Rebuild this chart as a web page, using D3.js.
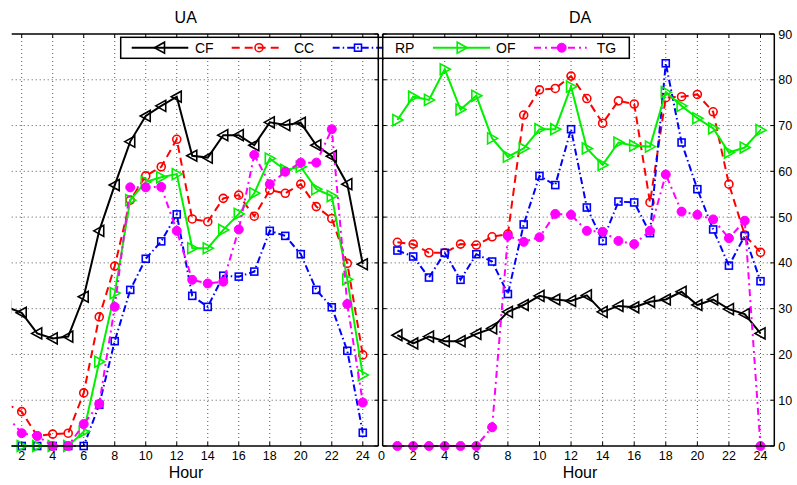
<!DOCTYPE html>
<html><head><meta charset="utf-8">
<script src="https://cdn.jsdelivr.net/npm/d3@7"></script>
<style>html,body{margin:0;padding:0;background:#fff;}svg{display:block;font-family:"Liberation Sans",Arial,sans-serif;}</style>
</head><body>
<script>
const hours = d3.range(1, 25);
const seriesNames = ["CF", "CC", "RP", "OF", "TG"];
const panelTitles = ["UA", "DA"];
const xTicks = [2,4,6,8,10,12,14,16,18,20,22,24];
const yTicks = [0,10,20,30,40,50,60,70,80,90];

// UA panel
const uaCF = [30.4,29.1,24.6,23.5,23.9,32.6,47.0,57.0,66.5,72.1,74.3,76.3,63.4,63.0,67.9,67.9,65.7,70.7,70.1,70.6,65.7,63.3,57.2,39.7];
const uaCC = [9.2,7.5,2.2,2.6,2.8,11.6,28.2,39.3,53.7,59.0,61.0,67.0,49.6,49.0,54.1,54.8,50.2,55.9,55.2,57.2,52.3,49.7,39.9,19.9];
const uaRP = [0,0,0,0,0,0,9.0,22.9,34.1,40.9,44.7,50.6,32.8,30.4,37.2,37.0,38.1,47.0,45.9,41.9,34.1,30.3,20.8,2.9];
const uaOF = [0,0,0,0,0,3.1,18.4,33.4,53.7,57.7,58.7,59.4,43.2,43.2,47.2,50.7,55.2,62.8,60.3,61.0,56.1,54.6,36.4,15.5];
const uaTG = [6.7,2.8,2.2,0,0,4.8,9.2,30.4,56.5,56.5,56.6,47.0,36.3,35.5,35.9,47.3,63.6,57.2,59.9,61.9,61.9,69.2,31.0,9.5];

// DA panel
const daCF = [24.2,22.4,23.9,22.9,22.9,24.5,25.7,29.3,30.8,32.8,32.0,31.7,32.9,29.3,30.6,30.3,31.5,32.0,33.7,30.8,32.0,29.9,28.8,24.6];
const daCC = [44.5,44.1,42.2,42.2,44.1,43.9,45.7,46.3,72.3,77.8,78.1,80.8,75.9,70.5,75.4,74.7,53.2,76.1,76.3,76.8,73.0,57.2,46.1,42.3];
const daRP = [42.7,41.4,36.8,42.2,36.3,41.9,40.3,33.2,48.4,59.0,57.0,69.2,52.1,44.8,53.4,53.2,46.5,83.6,66.3,56.1,47.3,39.4,45.9,36.0];
const daOF = [71.2,76.3,75.6,82.3,73.5,76.5,67.2,63.2,65.0,69.2,69.2,78.5,65.0,61.4,66.3,65.6,65.4,77.3,74.3,71.6,69.4,64.1,65.2,69.0];
const daTG = [0,0,0,0,0,0,4.1,45.9,44.6,45.6,50.7,50.5,47.0,46.8,44.8,44.1,47.0,59.3,51.2,50.5,49.5,45.4,49.2,0];

const W = 797, H = 485;
const svg = d3.select("body").append("svg").attr("width", W).attr("height", H);

const styles = {
  CF: {color:"#000000", dash:null, marker:"triL"},
  CC: {color:"#ff0000", dash:"8,5", marker:"circle"},
  RP: {color:"#0000ff", dash:"7,3,1.5,3", marker:"square"},
  OF: {color:"#00f000", dash:null, marker:"triR"},
  TG: {color:"#ff00ff", dash:"7,4,2,4", marker:"dot"}
};

const y = d3.scaleLinear().domain([0, 90]).range([446, 34]);

const panels = [
  {title: panelTitles[0], x: d3.scaleLinear().domain([0,25]).range([-9.3, 378.3]), left: 11.7, right: 378.3,
   data: {CF: uaCF, CC: uaCC, RP: uaRP, OF: uaOF, TG: uaTG}, leftAxis:false, rightLabels:false},
  {title: panelTitles[1], x: d3.scaleLinear().domain([0,25]).range([381.6, 776.3]), left: 382.7, right: 774.3,
   data: {CF: daCF, CC: daCC, RP: daRP, OF: daOF, TG: daTG}, leftAxis:true, rightLabels:true}
];

function drawMarker(g, type, cx, cy, color) {
  if (type === "triL") {
    g.append("path").attr("d", `M${cx-5.5},${cy} L${cx+4.5},${cy-5.5} L${cx+4.5},${cy+5.5} Z`)
      .attr("fill","none").attr("stroke",color).attr("stroke-width",1.6);
  } else if (type === "triR") {
    g.append("path").attr("d", `M${cx+5.5},${cy} L${cx-4.5},${cy-5.5} L${cx-4.5},${cy+5.5} Z`)
      .attr("fill","none").attr("stroke",color).attr("stroke-width",1.6);
  } else if (type === "circle") {
    g.append("circle").attr("cx",cx).attr("cy",cy).attr("r",4)
      .attr("fill","none").attr("stroke",color).attr("stroke-width",1.6);
  } else if (type === "square") {
    g.append("rect").attr("x",cx-3.5).attr("y",cy-3.5).attr("width",7).attr("height",7)
      .attr("fill","none").attr("stroke",color).attr("stroke-width",1.6);
  } else if (type === "dot") {
    g.append("circle").attr("cx",cx).attr("cy",cy).attr("r",4.5)
      .attr("fill",color).attr("stroke",color).attr("stroke-width",1);
  }
}

panels.forEach((p, i) => {
  const x = p.x;
  const gp = svg.append("g");
  const clipId = "clip" + i;
  svg.append("defs").append("clipPath").attr("id", clipId)
    .append("rect").attr("x", p.left).attr("y", 0).attr("width", p.right - p.left).attr("height", H);

  // grid
  const grid = gp.append("g").attr("stroke", "#555").attr("stroke-width", 1).attr("stroke-dasharray", "1,3");
  xTicks.forEach(t => {
    grid.append("line").attr("x1", x(t)).attr("x2", x(t)).attr("y1", y(0)).attr("y2", y(90));
  });
  yTicks.filter(t => t > 0 && t < 90).forEach(t => {
    grid.append("line").attr("x1", p.left).attr("x2", p.right).attr("y1", y(t)).attr("y2", y(t));
  });

  // series
  const gs = gp.append("g").attr("clip-path", `url(#${clipId})`);
  seriesNames.forEach(name => {
    const st = styles[name];
    const vals = p.data[name];
    const line = d3.line().x((d, k) => x(hours[k])).y(d => y(d));
    gs.append("path").datum(vals).attr("d", line).attr("fill", "none")
      .attr("stroke", st.color).attr("stroke-width", 2)
      .attr("stroke-dasharray", st.dash);
    const gm = gs.append("g");
    vals.forEach((v, k) => drawMarker(gm, st.marker, x(hours[k]), y(v), st.color));
  });

  // frame
  const fr = gp.append("g").attr("stroke", "#000").attr("stroke-width", 1.5).attr("fill", "none");
  fr.append("line").attr("x1", p.left).attr("x2", p.right).attr("y1", y(90)).attr("y2", y(90));
  fr.append("line").attr("x1", p.left).attr("x2", p.right).attr("y1", y(0)).attr("y2", y(0));
  fr.append("line").attr("x1", p.right).attr("x2", p.right).attr("y1", y(90)).attr("y2", y(0));
  if (p.leftAxis) fr.append("line").attr("x1", p.left).attr("x2", p.left).attr("y1", y(90)).attr("y2", y(0));

  // ticks (inward)
  const tk = gp.append("g").attr("stroke", "#000").attr("stroke-width", 1);
  xTicks.forEach(t => {
    tk.append("line").attr("x1", x(t)).attr("x2", x(t)).attr("y1", y(0)).attr("y2", y(0) - 4);
    tk.append("line").attr("x1", x(t)).attr("x2", x(t)).attr("y1", y(90)).attr("y2", y(90) + 4);
  });
  yTicks.forEach(t => {
    tk.append("line").attr("x1", p.right).attr("x2", p.right - 4).attr("y1", y(t)).attr("y2", y(t));
    if (p.leftAxis) tk.append("line").attr("x1", p.left).attr("x2", p.left + 4).attr("y1", y(t)).attr("y2", y(t));
  });

  // x tick labels
  const xl = (p.leftAxis ? [0].concat(xTicks) : xTicks);
  xl.forEach(t => {
    gp.append("text").attr("x", x(t)).attr("y", 460).attr("text-anchor", "middle")
      .attr("font-size", 12.5).attr("fill", "#000").text(t);
  });
  // y labels on right
  if (p.rightLabels) {
    yTicks.forEach(t => {
      gp.append("text").attr("x", p.right + 4).attr("y", y(t) + 4.5).attr("text-anchor", "start")
        .attr("font-size", 12.5).attr("fill", "#000").text(t);
    });
  }
  // title and x label
  gp.append("text").attr("x", i === 0 ? 185.7 : 580).attr("y", 23).attr("text-anchor", "middle")
    .attr("font-size", 16).attr("fill", "#000").text(p.title);
  gp.append("text").attr("x", i === 0 ? 186 : 580).attr("y", 478).attr("text-anchor", "middle")
    .attr("font-size", 16).attr("fill", "#000").text("Hour");
});

// legend
const lg = svg.append("g");
lg.append("rect").attr("x", 120.7).attr("y", 37.3).attr("width", 629.3 - 120.7).attr("height", 21)
  .attr("fill", "#fff").attr("stroke", "#000").attr("stroke-width", 1.5);
const legPos = [
  {x1:131.7, x2:188.3, mx:160, tx:195},
  {x1:231.7, x2:281.7, mx:259, tx:294},
  {x1:332.7, x2:384, mx:358, tx:395},
  {x1:433, x2:490, mx:461.7, tx:496},
  {x1:534, x2:586.7, mx:561.7, tx:596.7}
];
const ly = 47.7;
seriesNames.forEach((name, k) => {
  const st = styles[name];
  const lp = legPos[k];
  lg.append("line").attr("x1", lp.x1).attr("x2", lp.x2).attr("y1", ly).attr("y2", ly)
    .attr("stroke", st.color).attr("stroke-width", 2).attr("stroke-dasharray", st.dash);
  drawMarker(lg, st.marker, lp.mx, ly, st.color);
  lg.append("text").attr("x", lp.tx).attr("y", ly + 5).attr("font-size", 14).attr("fill", "#000").text(name);
});
// panel borders visible through legend gap
svg.append("line").attr("x1", 378.3).attr("x2", 378.3).attr("y1", 34).attr("y2", 60).attr("stroke", "#000").attr("stroke-width", 1.5);
svg.append("line").attr("x1", 382.7).attr("x2", 382.7).attr("y1", 34).attr("y2", 60).attr("stroke", "#000").attr("stroke-width", 1.5);
</script>
</body></html>
